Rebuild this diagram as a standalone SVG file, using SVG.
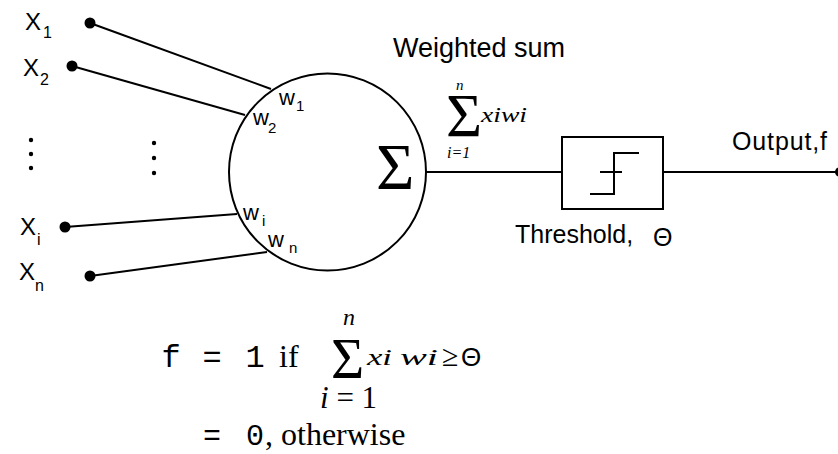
<svg xmlns="http://www.w3.org/2000/svg" width="838" height="454" viewBox="0 0 838 454">
<style>
.s{font-family:"Liberation Sans",Arial,sans-serif;fill:#000}
.ser{font-family:"Liberation Serif","Times New Roman",serif;fill:#000}
.it{font-family:"Liberation Serif","Times New Roman",serif;font-style:italic;fill:#000}
.mono{font-family:"Liberation Mono","Courier New",monospace;fill:#000}
.ln{stroke:#000;stroke-width:2;fill:none}
.dot{fill:#000}
</style>
<rect width="838" height="454" fill="#fff"/>

<g id="connectors" class="ln">
  <line x1="90" y1="23" x2="271" y2="89"/>
  <line x1="72" y1="66" x2="245" y2="115"/>
  <line x1="65" y1="227" x2="237" y2="214"/>
  <line x1="90" y1="276" x2="267" y2="252"/>
  <line x1="426" y1="172" x2="562" y2="172"/>
  <line x1="663" y1="172" x2="838" y2="172"/>
</g>

<g id="input-x1">
  <circle class="dot" cx="90" cy="23" r="5.5"/>
  <text class="s" x="25" y="30" font-size="24">X</text>
  <text class="s" x="43" y="38" font-size="16">1</text>
</g>
<g id="input-x2">
  <circle class="dot" cx="72" cy="66" r="5.5"/>
  <text class="s" x="23" y="76" font-size="24">X</text>
  <text class="s" x="40" y="85" font-size="16">2</text>
</g>
<g id="input-dots">
  <circle class="dot" cx="31" cy="140" r="2.2"/>
  <circle class="dot" cx="31" cy="154" r="2.2"/>
  <circle class="dot" cx="31" cy="168" r="2.2"/>
  <circle class="dot" cx="154" cy="143" r="2.2"/>
  <circle class="dot" cx="154" cy="158" r="2.2"/>
  <circle class="dot" cx="154" cy="173" r="2.2"/>
</g>
<g id="input-xi">
  <circle class="dot" cx="65" cy="227" r="5.5"/>
  <text class="s" x="20" y="235" font-size="24">X</text>
  <text class="s" x="37" y="245" font-size="16">i</text>
</g>
<g id="input-xn">
  <circle class="dot" cx="90" cy="276" r="5.5"/>
  <text class="s" x="19" y="280" font-size="24">X</text>
  <text class="s" x="35" y="291" font-size="16">n</text>
</g>

<g id="neuron">
  <circle class="ln" cx="327.5" cy="172" r="98.5"/>
  <text class="ser" x="376" y="189" font-size="66">Σ</text>
  <text class="s" x="279" y="105" font-size="22">w</text>
  <text class="s" x="296" y="111" font-size="15">1</text>
  <text class="s" x="253" y="125" font-size="22">w</text>
  <text class="s" x="268" y="133" font-size="15">2</text>
  <text class="s" x="243" y="220" font-size="22">w</text>
  <text class="s" x="262" y="226" font-size="15">i</text>
  <text class="s" x="268" y="247" font-size="22">w</text>
  <text class="s" x="289" y="253" font-size="15">n</text>
</g>

<g id="weighted-sum">
  <text class="s" x="393" y="57" font-size="27" textLength="172">Weighted sum</text>
  <text class="it" x="456" y="90" font-size="15">n</text>
  <text class="ser" x="446" y="136" font-size="62">Σ</text>
  <text class="it" x="481" y="122" font-size="21" textLength="46" lengthAdjust="spacingAndGlyphs">xiwi</text>
  <text class="it" x="447" y="158" font-size="16">i=1</text>
</g>

<g id="threshold">
  <rect class="ln" x="562" y="137" width="101" height="72"/>
  <path class="ln" d="M590 194H614V153H639M600 172H622"/>
  <text class="s" x="515" y="243" font-size="25">Threshold,</text>
  <text class="s" x="653" y="246" font-size="25">Θ</text>
</g>

<g id="output">
  <circle class="dot" cx="840" cy="172" r="5"/>
  <text class="s" x="732" y="150" font-size="25" textLength="95">Output,f</text>
</g>

<g id="formula">
  <text class="mono" x="171" y="367" font-size="32" text-anchor="middle">f</text>
  <text class="mono" x="212" y="367" font-size="32" text-anchor="middle">=</text>
  <text class="mono" x="255" y="367" font-size="32" text-anchor="middle">1</text>
  <text class="ser" x="279" y="367" font-size="32">if</text>
  <text class="it" x="343" y="325" font-size="24">n</text>
  <text class="ser" x="331" y="378" font-size="57">Σ</text>
  <text class="it" x="367" y="365" font-size="24" textLength="25" lengthAdjust="spacingAndGlyphs">xi</text>
  <text class="it" x="400" y="365" font-size="24" textLength="38" lengthAdjust="spacingAndGlyphs">wi</text>
  <text class="ser" x="442" y="366" font-size="30">≥</text>
  <text class="s" x="461" y="366" font-size="26">Θ</text>
  <text class="ser" x="320" y="408" font-size="31"><tspan class="it">i</tspan> = 1</text>
  <text class="mono" x="212" y="445" font-size="30" text-anchor="middle">=</text>
  <text class="mono" x="255" y="445" font-size="30" text-anchor="middle">0</text>
  <text class="ser" x="265" y="445" font-size="32">, otherwise</text>
</g>
</svg>
